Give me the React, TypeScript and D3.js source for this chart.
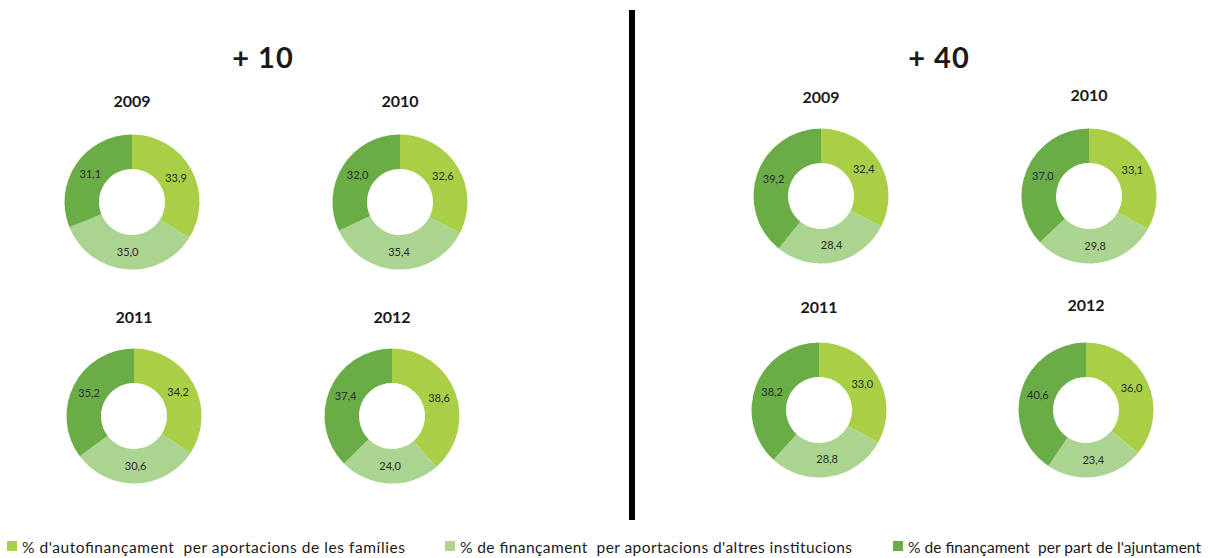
import React from "react";
import * as d3 from "d3";

const years = ["2009", "2010", "2011", "2012"];
const groupTitles = ["+ 10", "+ 40"];
const seriesNames = [
  "% d'autofinançament  per aportacions de les famílies",
  "% de finançament  per aportacions d'altres institucions",
  "% de finançament  per part de l'ajuntament",
];
const colors = ["#a9cf46", "#aad48f", "#6aad47"];

// values per year: [famílies, altres institucions, ajuntament]
const group10 = [
  [33.9, 35.0, 31.1],
  [32.6, 35.4, 32.0],
  [34.2, 30.6, 35.2],
  [38.6, 24.0, 37.4],
];
const group40 = [
  [32.4, 28.4, 39.2],
  [33.1, 29.8, 37.0],
  [33.0, 28.8, 38.2],
  [36.0, 23.4, 40.6],
];

const layout = [
  {
    title: { x: 263, y: 68 },
    donuts: [
      { cx: 132, cy: 202, ty: 107 },
      { cx: 400, cy: 202, ty: 107 },
      { cx: 134, cy: 416, ty: 323 },
      { cx: 392, cy: 416, ty: 323 },
    ],
  },
  {
    title: { x: 939, y: 68 },
    donuts: [
      { cx: 821, cy: 196, ty: 103 },
      { cx: 1089, cy: 196, ty: 101 },
      { cx: 819, cy: 410, ty: 313 },
      { cx: 1086, cy: 410, ty: 311 },
    ],
  },
];

const R = 67.5;
const r = 33;

const fmt = (v: number) => v.toFixed(1).replace(".", ",");

function Donut({ cx, cy, ty, values, year }: any) {
  const pie = d3.pie<number>().sort(null).value((d) => d);
  const arcs = pie(values);
  const arc = d3.arc<d3.PieArcDatum<number>>().innerRadius(r).outerRadius(R);
  const labelArc = d3
    .arc<d3.PieArcDatum<number>>()
    .innerRadius((r + R) / 2)
    .outerRadius((r + R) / 2);
  return (
    <g>
      <text
        x={cx}
        y={ty}
        textAnchor="middle"
        fontFamily="Lato, 'Open Sans', sans-serif"
        fontWeight="bold"
        fontSize={16}
        fill="#1a1a1a"
      >
        {year}
      </text>
      <g transform={`translate(${cx},${cy})`}>
        {arcs.map((a, i) => (
          <path key={i} d={arc(a) as string} fill={colors[i]} />
        ))}
        {arcs.map((a, i) => {
          const [lx, ly] = labelArc.centroid(a);
          return (
            <text
              key={"l" + i}
              x={lx}
              y={ly}
              dy="0.35em"
              textAnchor="middle"
              fontFamily="Lato, 'Open Sans', sans-serif"
              fontSize={11}
              fill="#2b2b2b"
            >
              {fmt(values[i])}
            </text>
          );
        })}
      </g>
    </g>
  );
}

export default function App() {
  const groups = [group10, group40];
  const legendX = [7, 445, 893];
  const legendLen = [383, 392, 293];
  return (
    <svg
      width={1220}
      height={558}
      style={{ position: "absolute", left: 0, top: 0, background: "#fff" }}
    >
      <rect x={0} y={0} width={1220} height={558} fill="#fff" />
      {groups.map((g, gi) => (
        <g key={gi}>
          <text
            x={layout[gi].title.x}
            y={layout[gi].title.y}
            textAnchor="middle"
            fontFamily="Lato, 'Open Sans', sans-serif"
            fontWeight="bold"
            fontSize={29}
            fill="#1a1a1a"
            letterSpacing={1}
          >
            {groupTitles[gi]}
          </text>
          {g.map((vals, yi) => (
            <Donut
              key={yi}
              {...layout[gi].donuts[yi]}
              values={vals}
              year={years[yi]}
            />
          ))}
        </g>
      ))}
      <rect x={629} y={10} width={6} height={510} fill="#000" />
      {seriesNames.map((s, i) => (
        <g key={i}>
          <rect x={legendX[i]} y={541} width={10} height={10} fill={colors[i]} />
          <text
            x={legendX[i] + 15}
            y={553}
            fontFamily="Lato, 'Open Sans', sans-serif"
            fontSize={15.5}
            fill="#1a1a1a"
            textLength={legendLen[i]}
            lengthAdjust="spacing"
            style={{ whiteSpace: "pre" }}
          >
            {s}
          </text>
        </g>
      ))}
    </svg>
  );
}
